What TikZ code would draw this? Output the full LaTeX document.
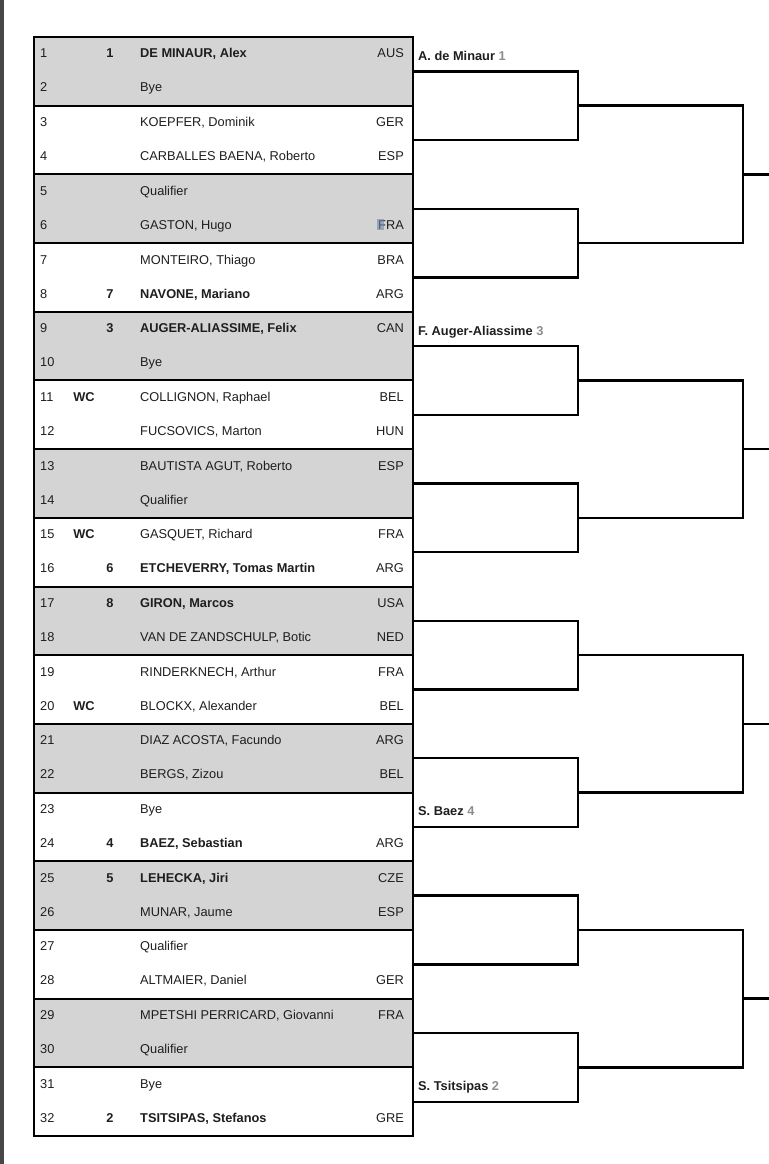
\documentclass[tikz,border=0pt]{standalone}
\usepackage{fontspec}
\setmainfont{Liberation Sans}
\usetikzlibrary{calc}

\definecolor{boxgray}{HTML}{D4D4D4}
\definecolor{seedgray}{HTML}{8C8C8C}
\definecolor{edgegray}{HTML}{474747}
\definecolor{markblue}{HTML}{6F86A8}
\definecolor{inkgray}{HTML}{1E1E1E}

\begin{document}
\begin{tikzpicture}[x=1pt, y=-1pt,
    cell/.style={inner sep=0pt, text=inkgray, font=\fontsize{12.8}{15}\selectfont},
    box/.style={line width=2pt},
    bracket/.style={line width=2.4pt, line cap=rect}]

    % Define parameters (table top, block height, columns)
    \pgfmathsetmacro{\top}{37}    % top of the draw table
    \pgfmathsetmacro{\bh}{68.69}  % height of one block of two lines
    \pgfmathsetmacro{\xl}{34}     % left edge of the table
    \pgfmathsetmacro{\xr}{413}    % right edge of the table

    \useasboundingbox (0,0) rectangle (768,1164);

    % --- 1. Page edge ---
    \fill[edgegray] (0,0) rectangle (3.5,1164);

    % --- 2. Blocks of the draw ---
    \foreach \k in {0,2,...,14}
        \fill[boxgray] (\xl,\top+\bh*\k) rectangle (\xr,\top+\bh*\k+\bh);
    \foreach \k in {0,...,15}
        \draw[box] (\xl,\top+\bh*\k) rectangle (\xr,\top+\bh*\k+\bh);

    % --- 3. Players ---
    \foreach \n/\sd/\en/\nm/\ct/\wt in {
        1/1//{DE MINAUR, Alex}/AUS/\bfseries,
        2///Bye//\mdseries,
        3///{KOEPFER, Dominik}/GER/\mdseries,
        4///{CARBALLES BAENA, Roberto}/ESP/\mdseries,
        5///Qualifier//\mdseries,
        6///{GASTON, Hugo}/FRA/\mdseries,
        7///{MONTEIRO, Thiago}/BRA/\mdseries,
        8/7//{NAVONE, Mariano}/ARG/\bfseries,
        9/3//{AUGER-ALIASSIME, Felix}/CAN/\bfseries,
        10///Bye//\mdseries,
        11//WC/{COLLIGNON, Raphael}/BEL/\mdseries,
        12///{FUCSOVICS, Marton}/HUN/\mdseries,
        13///{BAUTISTA AGUT, Roberto}/ESP/\mdseries,
        14///Qualifier//\mdseries,
        15//WC/{GASQUET, Richard}/FRA/\mdseries,
        16/6//{ETCHEVERRY, Tomas Martin}/ARG/\bfseries,
        17/8//{GIRON, Marcos}/USA/\bfseries,
        18///{VAN DE ZANDSCHULP, Botic}/NED/\mdseries,
        19///{RINDERKNECH, Arthur}/FRA/\mdseries,
        20//WC/{BLOCKX, Alexander}/BEL/\mdseries,
        21///{DIAZ ACOSTA, Facundo}/ARG/\mdseries,
        22///{BERGS, Zizou}/BEL/\mdseries,
        23///Bye//\mdseries,
        24/4//{BAEZ, Sebastian}/ARG/\bfseries,
        25/5//{LEHECKA, Jiri}/CZE/\bfseries,
        26///{MUNAR, Jaume}/ESP/\mdseries,
        27///Qualifier//\mdseries,
        28///{ALTMAIER, Daniel}/GER/\mdseries,
        29///{MPETSHI PERRICARD, Giovanni}/FRA/\mdseries,
        30///Qualifier//\mdseries,
        31///Bye//\mdseries,
        32/2//{TSITSIPAS, Stefanos}/GRE/\bfseries} {
        \pgfmathtruncatemacro{\blk}{(\n-1)/2}
        \pgfmathtruncatemacro{\sub}{mod(\n-1,2)}
        \pgfmathsetmacro{\yb}{\top+\bh*\blk+21+34*\sub}
        \node[cell, anchor=base west] (n\n) at (40,\yb) {\n};
        \node[cell, anchor=base] (sd\n) at (110,\yb) {\bfseries\sd};
        \node[cell, anchor=base] (en\n) at (84,\yb) {\bfseries\en};
        \node[cell, anchor=base west] (nm\n) at (140,\yb) {\wt\nm};
        \node[cell, anchor=base east] (ct\n) at (404,\yb) {\ct};
    }

    % small blue mark on the F of line 6
    \fill[markblue, opacity=0.6] (377.3,218.5) rectangle (384,229.5);

    % --- 4. First round ---
    \foreach \k in {0,...,15} {
        \pgfmathsetmacro{\ym}{\top+\bh*(\k+0.5)}
        \coordinate (s\k) at (\xr,\ym);
        \coordinate (t\k) at (578,\ym);
    }
    \foreach \j in {0,...,7} {
        \pgfmathtruncatemacro{\pa}{2*\j}
        \pgfmathtruncatemacro{\pb}{2*\j+1}
        \draw[bracket] (s\pa) -- (t\pa) -- (t\pb) -- (s\pb);
        \coordinate (u\j) at ($(t\pa)!0.5!(t\pb)$);
        \coordinate (v\j) at ($(u\j)+(165,0)$);
    }

    % --- 5. Second round ---
    \foreach \m in {0,...,3} {
        \pgfmathtruncatemacro{\pa}{2*\m}
        \pgfmathtruncatemacro{\pb}{2*\m+1}
        \draw[bracket] (u\pa) -- (v\pa) -- (v\pb) -- (u\pb);
        \coordinate (w\m) at ($(v\pa)!0.5!(v\pb)$);
        \coordinate (e\m) at ($(w\m)+(30,0)$);
        \draw[bracket] (w\m) -- (e\m);
    }

    % --- 6. Byes through to the second round ---
    \node[cell, anchor=base west, font=\fontsize{12.8}{15}\selectfont\bfseries] (q1) at ($(s0)+(5,-11)$) {A. de Minaur \textcolor{seedgray}{1}};
    \node[cell, anchor=base west, font=\fontsize{12.8}{15}\selectfont\bfseries] (q3) at ($(s4)+(5,-11)$) {F. Auger-Aliassime \textcolor{seedgray}{3}};
    \node[cell, anchor=base west, font=\fontsize{12.8}{15}\selectfont\bfseries] (q4) at ($(s11)+(5,-11)$) {S. Baez \textcolor{seedgray}{4}};
    \node[cell, anchor=base west, font=\fontsize{12.8}{15}\selectfont\bfseries] (q2) at ($(s15)+(5,-11)$) {S. Tsitsipas \textcolor{seedgray}{2}};

\end{tikzpicture}
\end{document}
